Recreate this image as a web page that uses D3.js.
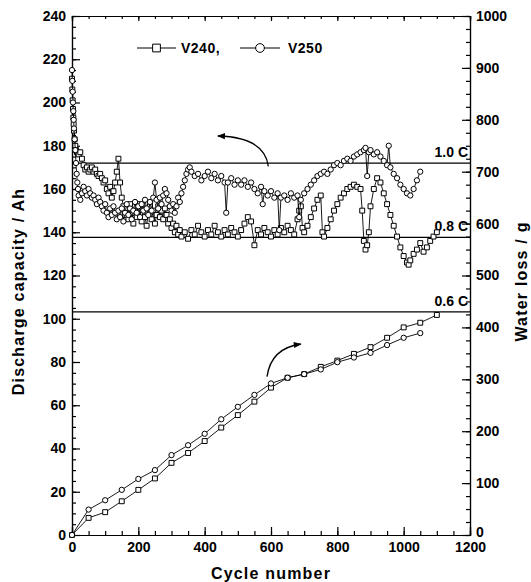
<!DOCTYPE html>
<html>
<head>
<meta charset="utf-8">
<script src="https://cdn.jsdelivr.net/npm/d3@7"></script>
<style>
  body { margin: 0; background: #fff; }
  text { font-family: "Liberation Sans", Arial, sans-serif; fill: #000; }
  .axis text { font-size: 14px; font-weight: bold; }
  .axis path, .axis line { stroke: #000; stroke-width: 1.2px; }
  .axisTitle { font-size: 16px; font-weight: bold; letter-spacing: 1.2px; }
  .rateLabel { font-size: 14px; font-weight: bold; }
  .legendText { font-size: 14px; font-weight: bold; letter-spacing: 0.5px; }
</style>
</head>
<body>
<div id="chart"></div>
<script>
// discharge capacity (Ah), V240 = squares
const capCycles240 = [0,1,2,3,4,5,6,8,10,12,15,20,25,30,35,40,45,50,55,60,65,70,75,80,85,90,95,100,105,110,115,120,125,130,135,140,145,150,155,160,165,170,175,180,185,190,195,200,205,210,215,220,225,230,235,240,245,250,255,260,265,270,275,280,285,290,295,300,305,310,315,320,325,330,340,350,360,370,380,390,400,410,420,430,440,450,460,470,480,490,500,510,520,530,540,550,560,570,580,590,600,610,620,630,640,650,660,670,680,685,690,695,700,710,720,730,740,750,755,760,770,780,790,800,810,820,830,840,850,860,870,875,880,885,890,895,900,910,920,930,940,950,960,970,980,990,1000,1010,1015,1020,1030,1040,1050,1060,1070,1080,1090,1100];
const cap240 = [211,206,201,197,193,190,187,183,180,178,177,176,177,174,171,169,170,168,169,170,168,169,167,166,167,165,163,164,160,158,161,156,159,163,168,174,163,156,152,148,151,146,153,149,144,150,147,153,148,145,151,147,143,149,152,146,150,144,148,152,147,150,146,151,148,144,146,142,144,140,143,139,141,138,140,137,141,139,143,140,138,141,139,143,140,138,141,139,142,140,138,141,144,147,145,134,141,139,142,140,138,141,139,142,140,143,141,139,146,150,152,142,140,143,147,151,155,157,140,138,142,146,150,153,156,158,160,161,162,161,160,150,136,132,134,140,152,160,165,163,158,153,148,143,138,133,129,126,125,127,130,132,135,131,133,136,138,140];

// discharge capacity (Ah), V250 = circles
const capCycles250 = [0,1,2,3,4,5,6,8,10,12,14,16,18,20,25,30,35,40,45,50,55,60,65,70,75,80,85,90,95,100,105,110,115,120,125,130,135,140,145,150,155,160,165,170,175,180,185,190,195,200,205,210,215,220,225,230,235,240,245,250,255,260,265,270,275,280,285,290,295,300,305,310,315,320,325,330,335,340,345,350,355,360,370,380,390,400,410,420,430,440,450,460,465,470,480,490,500,510,520,530,540,550,560,570,575,580,590,600,610,620,625,630,640,650,660,670,680,685,690,700,710,720,730,740,750,760,770,780,790,800,810,820,830,840,850,860,870,880,885,890,895,900,910,920,930,940,950,955,960,970,980,990,1000,1010,1020,1030,1040,1050];
const cap250 = [215,210,205,200,196,192,188,183,178,172,167,163,160,157,155,158,161,159,157,160,158,156,157,155,153,156,154,152,150,153,149,147,151,148,152,149,146,150,147,151,145,149,153,148,151,146,150,154,149,152,147,153,150,155,151,148,154,150,156,163,155,151,156,153,157,160,158,155,152,150,153,149,152,156,154,158,161,164,167,169,170,168,166,167,164,166,168,165,167,164,166,163,149,163,165,162,164,162,164,161,163,160,158,161,153,159,157,159,156,158,141,156,157,155,158,156,157,147,155,158,160,162,164,166,167,168,167,169,171,172,171,173,174,173,175,176,177,178,179,166,177,178,176,177,175,173,171,180,170,167,165,162,160,158,157,160,164,168];

// water loss (g)
const lossCycles240 = [0,50,100,150,200,250,300,350,400,450,500,550,600,650,700,750,800,850,900,950,1000,1050,1100];
const loss240 = [0,33,44,65,87,109,139,158,181,207,231,257,284,303,310,324,336,349,362,380,400,409,424];
const lossCycles250 = [0,50,100,150,200,250,300,350,400,450,500,550,600,650,700,750,800,850,900,950,1000,1050];
const loss250 = [0,49,67,87,108,125,154,173,195,223,247,270,292,303,310,319,333,342,351,366,380,389];

// C-rate reference levels
const rateLevels = [172, 137.6, 103.2];
const rateLabels = ["1.0 C", "0.8 C", "0.6 C"];

const margin = {top: 16, right: 61, bottom: 47, left: 72},
    width = 531 - margin.left - margin.right,
    height = 582 - margin.top - margin.bottom;

const svg = d3.select("#chart").append("svg")
    .attr("width", width + margin.left + margin.right)
    .attr("height", height + margin.top + margin.bottom)
  .append("g")
    .attr("transform", "translate(" + margin.left + "," + margin.top + ")");

const x = d3.scaleLinear().domain([0, 1200]).range([0, width]);
const yL = d3.scaleLinear().domain([0, 240]).range([height, 0]);
const yR = d3.scaleLinear().domain([0, 1000]).range([height, 0]);
const fmt = d3.format("d");

// minor ticks
svg.append("g").attr("class", "axis")
    .call(d3.axisLeft(yL).tickValues(d3.range(0, 241, 5)).tickSize(-4).tickFormat(""));
svg.append("g").attr("class", "axis")
    .attr("transform", "translate(" + width + ",0)")
    .call(d3.axisRight(yR).tickValues(d3.range(0, 1001, 25)).tickSize(-4).tickFormat(""));
svg.append("g").attr("class", "axis")
    .attr("transform", "translate(0," + height + ")")
    .call(d3.axisBottom(x).tickValues(d3.range(0, 1201, 50)).tickSize(-4).tickFormat(""));
svg.append("g").attr("class", "axis")
    .call(d3.axisTop(x).tickValues(d3.range(0, 1201, 50)).tickSize(-3).tickFormat(""));

// major ticks with labels
svg.append("g").attr("class", "axis")
    .call(d3.axisLeft(yL).tickValues(d3.range(0, 241, 20)).tickSize(-8).tickPadding(6).tickFormat(fmt));
const rightAxis = svg.append("g").attr("class", "axis")
    .attr("transform", "translate(" + width + ",0)")
    .call(d3.axisRight(yR).tickValues(d3.range(0, 1001, 100)).tickSize(-8).tickPadding(6).tickFormat(fmt));
rightAxis.selectAll(".tick text").filter(d => d === 0).attr("dy", "0.1em");
svg.append("g").attr("class", "axis")
    .attr("transform", "translate(0," + height + ")")
    .call(d3.axisBottom(x).tickValues(d3.range(0, 1201, 200)).tickSize(-8).tickPadding(7).tickFormat(fmt));
svg.append("g").attr("class", "axis")
    .call(d3.axisTop(x).tickValues(d3.range(0, 1201, 200)).tickSize(-5).tickFormat(""));

// axis titles
svg.append("text")
    .attr("class", "axisTitle")
    .attr("transform", "translate(" + (-48) + "," + (height / 2 + 16) + ") rotate(-90)")
    .attr("text-anchor", "middle")
    .text("Discharge capacity / Ah");

svg.append("text")
    .attr("class", "axisTitle")
    .attr("transform", "translate(" + (width + 57) + "," + (height / 2 + 6) + ") rotate(-90)")
    .attr("text-anchor", "middle")
    .text("Water loss / g");

svg.append("text")
    .attr("class", "axisTitle")
    .attr("x", width / 2)
    .attr("y", height + 44)
    .attr("text-anchor", "middle")
    .text("Cycle number");

// C-rate lines and labels
svg.selectAll("line.rate").data(rateLevels)
    .enter()
    .append("line")
    .attr("class", "rate")
    .attr("x1", 0)
    .attr("x2", width)
    .attr("y1", d => yL(d))
    .attr("y2", d => yL(d))
    .attr("stroke", "#000")
    .attr("stroke-width", 1.3);

svg.selectAll("text.rateLabel").data(rateLevels)
    .enter()
    .append("text")
    .attr("class", "rateLabel")
    .attr("x", width - 2)
    .attr("y", d => yL(d) - 6)
    .attr("text-anchor", "end")
    .text((d, i) => rateLabels[i]);

// helper to draw one series
function drawSeries(cycles, values, yScale, shape, size) {
    const pts = cycles.map((c, i) => ({x: x(c), y: yScale(values[i])}));
    svg.append("path")
        .datum(pts)
        .attr("fill", "none")
        .attr("stroke", "#000")
        .attr("stroke-width", 0.9)
        .attr("d", d3.line().x(d => d.x).y(d => d.y));
    const sym = d3.symbol().type(shape === "square" ? d3.symbolSquare : d3.symbolCircle).size(size);
    svg.append("g")
        .selectAll("path")
        .data(pts)
        .enter()
        .append("path")
        .attr("transform", d => "translate(" + d.x + "," + d.y + ")")
        .attr("d", sym)
        .attr("fill", "#fff")
        .attr("stroke", "#000")
        .attr("stroke-width", 1);
}

drawSeries(capCycles240, cap240, yL, "square", 24);
drawSeries(capCycles250, cap250, yL, "circle", 22);
drawSeries(lossCycles240, loss240, yR, "square", 24);
drawSeries(lossCycles250, loss250, yR, "circle", 22);

// arrows
const defs = svg.append("defs");
defs.append("marker")
    .attr("id", "head")
    .attr("viewBox", "0 0 10 10")
    .attr("refX", 9).attr("refY", 5)
    .attr("markerWidth", 7).attr("markerHeight", 6)
    .attr("orient", "auto")
  .append("path")
    .attr("d", "M0,1 L10,5 L0,9 Z")
    .attr("fill", "#000");

svg.append("path")
    .attr("d", "M" + x(592) + "," + yL(170.5) + " Q" + x(580) + "," + yL(184) + " " + x(440) + "," + yL(184.5))
    .attr("fill", "none").attr("stroke", "#000").attr("stroke-width", 1.3)
    .attr("marker-end", "url(#head)");

svg.append("path")
    .attr("d", "M" + x(588) + "," + yR(305) + " Q" + x(600) + "," + yR(360) + " " + x(690) + "," + yR(368))
    .attr("fill", "none").attr("stroke", "#000").attr("stroke-width", 1.3)
    .attr("marker-end", "url(#head)");

// legend
const legendY = 32;
const legend = [
    {name: "V240,", shape: "square", x1: 65, x2: 104, tx: 109},
    {name: "V250", shape: "circle", x1: 168, x2: 208, tx: 216}
];
legend.forEach(l => {
    svg.append("line")
        .attr("x1", l.x1).attr("x2", l.x2)
        .attr("y1", legendY).attr("y2", legendY)
        .attr("stroke", "#000").attr("stroke-width", 1);
    svg.append("path")
        .attr("transform", "translate(" + ((l.x1 + l.x2) / 2) + "," + legendY + ")")
        .attr("d", d3.symbol().type(l.shape === "square" ? d3.symbolSquare : d3.symbolCircle).size(60))
        .attr("fill", "#fff").attr("stroke", "#000").attr("stroke-width", 1);
    svg.append("text")
        .attr("class", "legendText")
        .attr("x", l.tx)
        .attr("y", legendY + 5)
        .text(l.name);
});
</script>
</body>
</html>
